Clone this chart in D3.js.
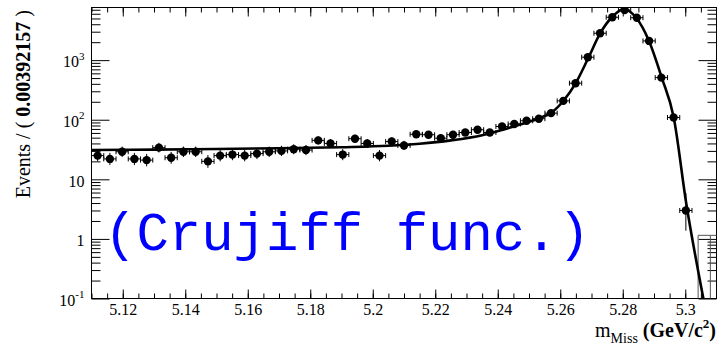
<!DOCTYPE html>
<html>
<head>
<meta charset="utf-8">
<script src="https://cdn.jsdelivr.net/npm/d3@7"></script>
<style>
  html, body { margin: 0; padding: 0; background: #fff; }
  svg { display: block; }
  text { font-family: "Liberation Serif", "Times New Roman", serif; fill: #000; }
</style>
</head>
<body>
<svg id="chart" width="717" height="350"></svg>
<script>
// ---- data -------------------------------------------------------------
// histogram binning of the missing mass (GeV/c^2)
const binLow = 5.11;
const binHigh = 5.31;
const nBins = 51;

// events per bin
const counts = [
  25, 22, 29, 22, 21, 34, 23, 29, 29, 20,
  25, 26, 25, 27, 29, 30, 32, 31, 45, 40,
  26, 48, 40, 25, 43, 37, 57, 56, 49, 56,
  61, 68, 61, 77, 85, 96, 104, 129, 207, 410,
  1119, 2826, 5236, 6930, 5150, 2100, 509, 109, 3, 0,
  0
];

// fitted Cruijff + background curve, sampled along the mass axis
const fitMass = [
  5.110, 5.130, 5.150, 5.170, 5.190, 5.205, 5.215, 5.225, 5.235, 5.2407,
  5.2471, 5.2535, 5.2573, 5.2611, 5.2650, 5.2691, 5.2728, 5.2765, 5.2803, 5.2843,
  5.2884, 5.2925, 5.2963, 5.3003, 5.3058, 5.3100
];
const fitValue = [
  31, 31.5, 32.3, 33.2, 34.6, 36.5, 39.5, 45, 55, 66,
  83, 107, 133, 210, 415, 1120, 2830, 5240, 7150, 5150,
  2100, 505, 110, 4.0, 0.1, 0.008
];

// axes
const yRange = [0.1, 7640];
const xTicks = [5.12, 5.14, 5.16, 5.18, 5.2, 5.22, 5.24, 5.26, 5.28, 5.3];
const xTickLabels = ["5.12", "5.14", "5.16", "5.18", "5.2", "5.22", "5.24", "5.26", "5.28", "5.3"];
const yTicks = [0.1, 1, 10, 100, 1000];
const yTickBase = ["10", "1", "10", "10", "10"];
const yTickExp = ["-1", "", "", "2", "3"];

// ---- layout -----------------------------------------------------------
const plot = { left: 91.5, right: 716.5, top: 7.5, bottom: 298.5 };
const svg = d3.select("#chart");

const x = d3.scaleLinear().domain([binLow, binHigh]).range([plot.left, plot.right]);
const y = d3.scaleLog().domain(yRange).range([plot.bottom, plot.top]);

const binWidth = (binHigh - binLow) / nBins;
const bins = counts.map((n, i) => ({
  n,
  lo: binLow + i * binWidth,
  mid: binLow + (i + 0.5) * binWidth,
  hi: binLow + (i + 1) * binWidth
}));

// Poisson 68% interval (Wilson-Hilferty approximation of the Garwood limits)
function poissonInterval(n) {
  if (n === 0) return [0, 1.148];
  const lo = n * Math.pow(1 - 1 / (9 * n) - 1 / (3 * Math.sqrt(n)), 3);
  const m = n + 1;
  const hi = m * Math.pow(1 - 1 / (9 * m) + 1 / (3 * Math.sqrt(m)), 3);
  return [lo, hi];
}

svg.append("defs").append("clipPath").attr("id", "frameClip")
  .append("rect")
  .attr("x", plot.left).attr("y", plot.top)
  .attr("width", plot.right - plot.left).attr("height", plot.bottom - plot.top);

// ---- axes ---------------------------------------------------------------
const xMinor = d3.range(0, 41).map(k => binLow + k * 0.005);
const yMinor = [];
yTicks.forEach(d => { for (let k = 2; k <= 9; k++) if (d * k <= yRange[1]) yMinor.push(d * k); });

function tidy(g) {
  g.select(".domain").remove();
  g.selectAll(".tick line").attr("stroke", "#000").attr("stroke-width", 1);
}

// bottom
svg.append("g").attr("transform", `translate(0,${plot.bottom})`)
  .call(d3.axisBottom(x).tickValues(xMinor).tickSize(-5).tickFormat(""))
  .call(tidy);
svg.append("g").attr("transform", `translate(0,${plot.bottom})`)
  .call(d3.axisBottom(x).tickValues(xTicks).tickSize(-9).tickPadding(5)
    .tickFormat((d, i) => xTickLabels[i]))
  .call(tidy)
  .selectAll("text").attr("font-size", 16).attr("font-family", "Liberation Serif, serif").attr("fill", "#000");

// top
svg.append("g").attr("transform", `translate(0,${plot.top})`)
  .call(d3.axisTop(x).tickValues(xMinor).tickSize(-5).tickFormat(""))
  .call(tidy);
svg.append("g").attr("transform", `translate(0,${plot.top})`)
  .call(d3.axisTop(x).tickValues(xTicks).tickSize(-9).tickFormat(""))
  .call(tidy);

// left
svg.append("g").attr("transform", `translate(${plot.left},0)`)
  .call(d3.axisLeft(y).tickValues(yMinor).tickSize(-9).tickFormat(""))
  .call(tidy);
const yLeft = svg.append("g").attr("transform", `translate(${plot.left},0)`)
  .call(d3.axisLeft(y).tickValues(yTicks).tickSize(-18).tickPadding(7).tickFormat(""))
  .call(tidy);
yLeft.selectAll(".tick text").each(function (d, i) {
  const t = d3.select(this)
    .attr("font-size", 16).attr("font-family", "Liberation Serif, serif").attr("fill", "#000")
    .attr("dy", "0.42em");
  t.append("tspan").text(yTickBase[i]);
  if (yTickExp[i]) t.append("tspan").attr("font-size", 11).attr("dy", "-0.7em").text(yTickExp[i]);
});

// right
svg.append("g").attr("transform", `translate(${plot.right},0)`)
  .call(d3.axisRight(y).tickValues(yMinor).tickSize(-9).tickFormat(""))
  .call(tidy);
svg.append("g").attr("transform", `translate(${plot.right},0)`)
  .call(d3.axisRight(y).tickValues(yTicks).tickSize(-18).tickFormat(""))
  .call(tidy);

// frame
svg.append("rect")
  .attr("x", plot.left).attr("y", plot.top)
  .attr("width", plot.right - plot.left).attr("height", plot.bottom - plot.top)
  .attr("fill", "none").attr("stroke", "#000").attr("stroke-width", 1);

// ---- data points with error bars ----------------------------------------
const dataG = svg.append("g").attr("clip-path", "url(#frameClip)");
const bottomY = y(yRange[0]) + 2;

bins.forEach(b => {
  const [lo, hi] = poissonInterval(b.n);
  const cx = x(b.mid);
  if (b.n === 0) {
    dataG.append("line")
      .attr("x1", cx).attr("x2", cx).attr("y1", bottomY).attr("y2", y(hi))
      .attr("stroke", "#555").attr("stroke-width", 1);
    dataG.append("line")
      .attr("x1", cx).attr("x2", x(b.mid + binWidth)).attr("y1", y(hi)).attr("y2", y(hi))
      .attr("stroke", "#555").attr("stroke-width", 1);
    return;
  }
  const cy = y(b.n);
  // vertical
  dataG.append("line")
    .attr("x1", cx).attr("x2", cx).attr("y1", y(lo)).attr("y2", y(hi))
    .attr("stroke", "#000").attr("stroke-width", 1);
  // horizontal (bin width) with end caps
  dataG.append("line")
    .attr("x1", x(b.lo)).attr("x2", x(b.hi)).attr("y1", cy).attr("y2", cy)
    .attr("stroke", "#000").attr("stroke-width", 1);
  [b.lo, b.hi].forEach(e => {
    dataG.append("line")
      .attr("x1", x(e)).attr("x2", x(e)).attr("y1", cy - 2.5).attr("y2", cy + 2.5)
      .attr("stroke", "#000").attr("stroke-width", 1);
  });
  dataG.append("circle")
    .attr("cx", cx).attr("cy", cy).attr("r", 4.2).attr("fill", "#000");
});

// ---- fit curve -----------------------------------------------------------
const fitPoints = fitMass.map((m, i) => [m, fitValue[i]]);
dataG.append("path")
  .datum(fitPoints)
  .attr("fill", "none")
  .attr("stroke", "#000")
  .attr("stroke-width", 2.6)
  .attr("d", d3.line().x(d => x(d[0])).y(d => y(d[1])).curve(d3.curveMonotoneX));

// ---- titles ----------------------------------------------------------------
const yTitle = svg.append("text")
  .attr("transform", "translate(30,10) rotate(-90)")
  .attr("text-anchor", "end")
  .attr("font-size", 20);
yTitle.append("tspan").text("Events / ( ");
yTitle.append("tspan").attr("font-weight", "bold").text("0.00392157");
yTitle.append("tspan").text(" )");

const xTitle = svg.append("text")
  .attr("x", 716).attr("y", 337)
  .attr("text-anchor", "end")
  .attr("font-size", 20);
xTitle.append("tspan").text("m");
xTitle.append("tspan").attr("font-size", 14).attr("dy", 6).text("Miss");
xTitle.append("tspan").attr("dy", -6).attr("font-weight", "bold").text(" (GeV/c");
xTitle.append("tspan").attr("font-size", 13).attr("font-weight", "bold").attr("dy", -9).text("2");
xTitle.append("tspan").attr("dy", 9).attr("font-weight", "bold").text(")");

// ---- annotation -------------------------------------------------------------
svg.append("text")
  .attr("x", 104).attr("y", 250)
  .attr("font-family", "Liberation Mono, Courier New, monospace")
  .attr("font-size", 54)
  .attr("fill", "#0000ff")
  .style("font-family", "'Liberation Mono', 'Courier New', monospace")
  .style("fill", "#0000ff")
  .text("(Crujiff func.)");
</script>
</body>
</html>
